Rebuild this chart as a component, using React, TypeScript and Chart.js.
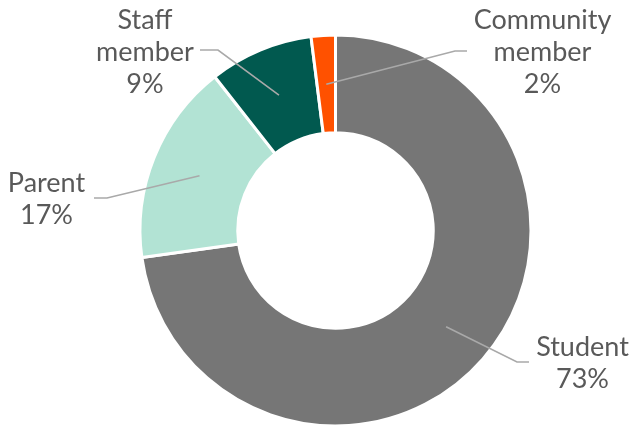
import React, { useEffect, useRef } from "react";
import { Chart, registerables } from "chart.js";

Chart.register(...registerables);

const categories = ["Student", "Parent", "Staff member", "Community member"];
const shares = [72.8, 16.6, 8.6, 2.0];
const sliceColors = ["#767676", "#B2E3D4", "#01594F", "#FF5100"];

// Label placement (canvas px): text centre x, first baseline, elbow and line end
const LABEL_LAYOUT = [
  { tx: 582.5, ty: 356, elbow: [517, 362], end: [529, 362] },
  { tx: 46.5, ty: 192, elbow: [107, 198], end: [94, 198] },
  { tx: 145, ty: 29, elbow: [218, 50], end: [200, 50] },
  { tx: 542.5, ty: 29, elbow: [455, 51], end: [467, 51] },
];

const labelPlugin = {
  id: "outerLabels",
  afterDraw(chart: any) {
    const ctx = chart.ctx;
    const meta = chart.getDatasetMeta(0);
    const data = chart.data.datasets[0].data as number[];
    const total = data.reduce((a: number, b: number) => a + b, 0);
    meta.data.forEach((arc: any, i: number) => {
      const p = arc.getProps(["x", "y", "startAngle", "endAngle", "innerRadius", "outerRadius"], true);
      const mid = (p.startAngle + p.endAngle) / 2;
      const r = (p.innerRadius + p.outerRadius) / 2;
      const sx = p.x + Math.cos(mid) * r;
      const sy = p.y + Math.sin(mid) * r;
      const lay = LABEL_LAYOUT[i];
      ctx.save();
      ctx.strokeStyle = "#A9A9A9";
      ctx.lineWidth = 1.6;
      ctx.beginPath();
      ctx.moveTo(sx, sy);
      ctx.lineTo(lay.elbow[0], lay.elbow[1]);
      ctx.lineTo(lay.end[0], lay.end[1]);
      ctx.stroke();
      const lines = [...String(chart.data.labels[i]).split(" "), Math.round((data[i] / total) * 100) + "%"];
      ctx.fillStyle = "#595959";
      ctx.font = "27px Lato";
      ctx.textAlign = "center";
      ctx.textBaseline = "alphabetic";
      lines.forEach((t, k) => ctx.fillText(t, lay.tx, lay.ty + k * 32.2));
      ctx.restore();
    });
  },
};

export default function App() {
  const ref = useRef<HTMLCanvasElement>(null);
  useEffect(() => {
    if (!ref.current) return;
    const chart = new Chart(ref.current, {
      type: "doughnut",
      data: {
        labels: categories,
        datasets: [
          {
            data: shares,
            backgroundColor: sliceColors,
            borderColor: "#FFFFFF",
            borderWidth: 3,
          },
        ],
      },
      options: {
        responsive: false,
        animation: false,
        devicePixelRatio: 1,
        radius: 195.5,
        cutout: 96.5,
        layout: { padding: { left: 140, right: 100, top: 36, bottom: 2 } },
        plugins: { legend: { display: false }, tooltip: { enabled: false } },
      },
      plugins: [labelPlugin],
    });
    return () => chart.destroy();
  }, []);
  return (
    <div style={{ position: "absolute", left: 0, top: 0, width: 631, height: 427, background: "#fff" }}>
      <canvas ref={ref} width={631} height={427} />
    </div>
  );
}
